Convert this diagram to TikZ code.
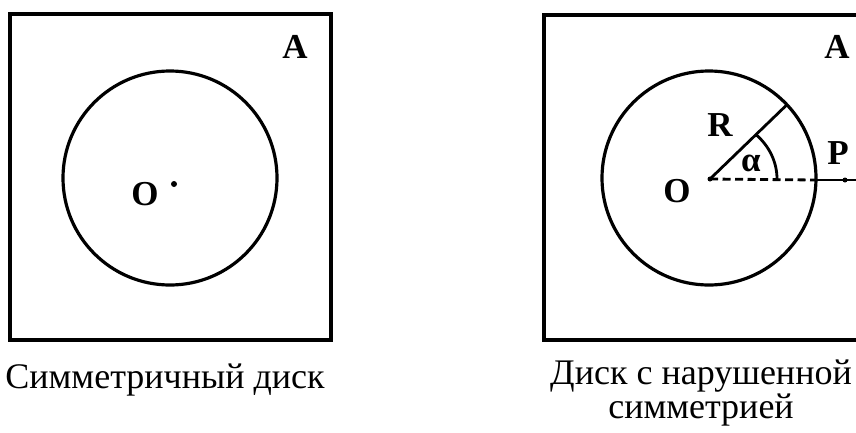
\documentclass[tikz,border=0pt]{standalone}
\usepackage{fontspec}
\setmainfont{Liberation Serif}
\usetikzlibrary{calc}
\begin{document}
\begin{tikzpicture}[x=1pt,y=1pt,
  frame/.style={line width=3.2pt},
  disk/.style={line width=3.2pt},
  thin line/.style={line width=2.8pt},
  dash line/.style={line width=2.8pt, dash pattern=on 8pt off 4.5pt},
  lbl/.style={font=\fontsize{35}{35}\selectfont\bfseries, inner sep=0pt},
  capt/.style={font=\fontsize{36}{30}\selectfont, inner sep=0pt, anchor=base, align=center},
  dot/.style={circle, fill=black, inner sep=0pt, minimum size=6pt}]
\clip (0,0) rectangle (856,-432);
% ---- left: symmetric disk
\draw[frame] (10,-14) rectangle (331,-340);
\draw[disk] (170,-178) circle[radius=107pt];
\node[dot] (O1) at (174,-184) {};
\node[lbl] (O1l) at (145,-194) {O};
\node[lbl] (A1) at (295,-47) {A};
\node[capt] (cap1) at (165,-388) {Симметричный диск};
% ---- right: disk with broken symmetry
\draw[frame] (544,-15) rectangle (880,-340);
\draw[disk] (709,-178) circle[radius=107pt];
\node[dot, minimum size=5pt] (O2) at (710,-179) {};
\coordinate (Rend) at ($(710,-179)+(44:106pt)$);
\coordinate (E) at (816,-180);
\coordinate (Fr) at (870,-180);
\node[dot, minimum size=5pt] (P) at (845,-180) {};
\draw[thin line] (O2.center) -- (Rend);
\draw[dash line] (O2.center) -- (E);
\draw[thin line] (E) -- (P.center) -- (Fr);
\draw[thin line] ($(710,-179)+(67pt,0)$) arc[start angle=0, end angle=46.7, x radius=67pt, y radius=61pt];
\node[lbl] (O2l) at (677,-191) {O};
\node[lbl] (Rl) at (720,-125) {R};
\node[lbl] (al) at (751,-163) {α};
\node[lbl] (Pl) at (838,-153) {P};
\node[lbl] (A2) at (837,-47) {A};
\node[capt] (cap2) at (701,-418) {Диск с нарушенной\\симметрией};
\end{tikzpicture}
\end{document}
